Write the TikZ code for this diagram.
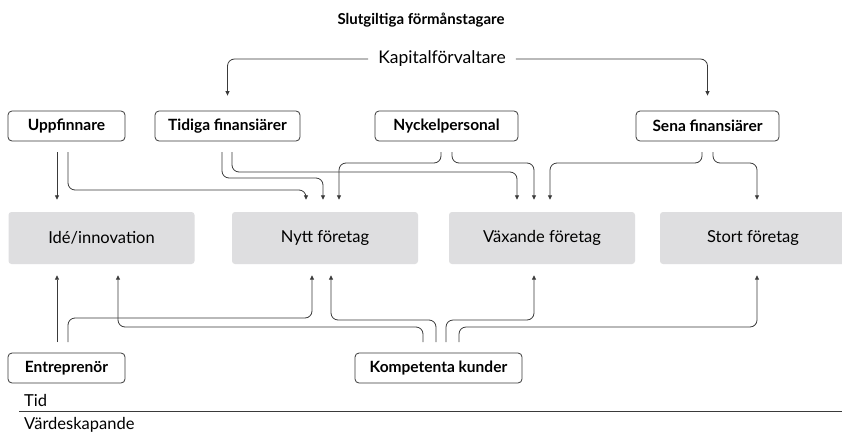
\documentclass[tikz,border=0pt]{standalone}
\usepackage{fontspec}
\setmainfont{Lato}
\usetikzlibrary{arrows.meta,calc}
\definecolor{boxgray}{HTML}{DEDEE0}
\definecolor{linecol}{HTML}{3A3A3A}
\tikzset{
  actor/.style={draw=linecol, line width=0.8pt, rounded corners=4pt, fill=white,
    font=\bfseries\fontsize{15.5}{18}\selectfont, minimum height=30pt, inner sep=0pt, anchor=center},
  stage/.style={fill=boxgray, rounded corners=3pt, minimum height=52pt, minimum width=186pt,
    font=\fontsize{16.5}{19}\selectfont, inner sep=0pt},
  conn/.style={draw=linecol, line width=0.8pt, rounded corners=7pt,
    -{Triangle[length=4.5pt,width=4pt]}},
  axistext/.style={anchor=base west, font=\fontsize{16.5}{19}\selectfont, inner sep=0pt},
}
\begin{document}
\begin{tikzpicture}[x=1pt,y=-1pt]
\clip (0,0) rectangle (842,431);
\fill[white] (0,0) rectangle (842,431);

% titles
\node[font=\bfseries\fontsize{15}{18}\selectfont] (title) at (421,20) {Slutgiltiga förmånstagare};
\node[font=\fontsize{17.5}{20}\selectfont, inner xsep=10pt] (kap) at (442,59) {Kapitalförvaltare};

% top actors
\node[actor, minimum width=117pt] (upp) at (66.5,126) {Uppfinnare};
\node[actor, minimum width=145pt] (tid) at (227.5,126) {Tidiga finansiärer};
\node[actor, minimum width=143pt] (nyc) at (446.5,126) {Nyckelpersonal};
\node[actor, minimum width=143pt] (sen) at (707.5,126) {Sena finansiärer};

% stages
\node[stage] (ide) at (101.5,238) {Idé/innovation};
\node[stage] (nytt) at (325,238) {Nytt företag};
\node[stage] (vax) at (542,238) {Växande företag};
\node[stage] (stort) at (753,238) {Stort företag};

% bottom actors
\node[actor, minimum width=117pt] (ent) at (66.5,368) {Entreprenör};
\node[actor, minimum width=167pt] (kom) at (438.5,368) {Kompetenta kunder};

% time axis
\node[axistext] (tidtxt) at (24,406) {Tid};
\coordinate (axL) at (19,411);
\coordinate (axR) at (842,411);
\draw[linecol, line width=0.8pt] (axL) -- (axR);
\node[axistext] (vardtxt) at (24,429) {Värdeskapande};

% Kapitalförvaltare
\draw[conn] (kap.west) -| ([yshift=15pt]tid.north);
\draw[conn] (kap.east) -| ([yshift=15pt]sen.north);

% top start points
\coordinate (u1) at (57,152);
\coordinate (u2) at (68,152);
\coordinate (t1) at (222,152);
\coordinate (t2) at (232,152);
\coordinate (n1) at (441,152);
\coordinate (n2) at (452,152);
\coordinate (s1) at (702,152);
\coordinate (s2) at (713,152);

\draw[conn] (u1) -- ([yshift=12pt]ide.north -| u1);
\draw[conn] (u2) |- (306,190) -- ([yshift=12pt]nytt.north -| 306,0);
\draw[conn] (t1) |- (323,178) -- ([yshift=12pt]nytt.north -| 323,0);
\draw[conn] (t2) |- (517,172) -- ([yshift=12pt]vax.north -| 517,0);
\draw[conn] (n1) |- (339,163) -- ([yshift=12pt]nytt.north -| 339,0);
\draw[conn] (n2) |- (534,163) -- ([yshift=12pt]vax.north -| 534,0);
\draw[conn] (s1) |- (550,163) -- ([yshift=12pt]vax.north -| 550,0);
\draw[conn] (s2) |- (757,163) -- ([yshift=12pt]stort.north -| 757,0);

% bottom start points
\coordinate (e1) at (57,342);
\coordinate (e2) at (68,342);
\coordinate (k1) at (423,342);
\coordinate (k2) at (436,342);
\coordinate (k3) at (446,342);
\coordinate (k4) at (459,342);

\draw[conn] (e1) -- ([yshift=-11pt]ide.south -| e1);
\draw[conn] (e2) |- (312,318) -- ([yshift=-11pt]nytt.south -| 312,0);
\draw[conn] (k1) |- (118,327) -- ([yshift=-11pt]ide.south -| 118,0);
\draw[conn] (k2) |- (331,320) -- ([yshift=-11pt]nytt.south -| 331,0);
\draw[conn] (k3) |- (534,320) -- ([yshift=-11pt]vax.south -| 534,0);
\draw[conn] (k4) |- (757,327) -- ([yshift=-11pt]stort.south -| 757,0);
\end{tikzpicture}
\end{document}
